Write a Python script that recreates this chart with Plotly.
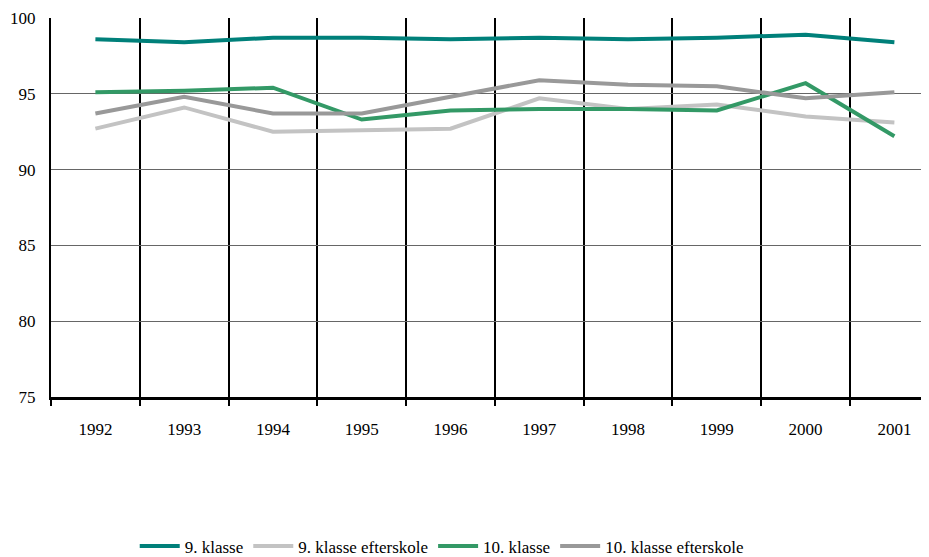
import plotly.graph_objects as go

# Data
years = ["1992", "1993", "1994", "1995", "1996", "1997", "1998", "1999", "2000", "2001"]
klasse9 = [98.6, 98.4, 98.7, 98.7, 98.6, 98.7, 98.6, 98.7, 98.9, 98.4]
klasse9_efterskole = [92.7, 94.1, 92.5, 92.6, 92.7, 94.7, 94.0, 94.3, 93.5, 93.1]
klasse10 = [95.1, 95.2, 95.4, 93.3, 93.9, 94.0, 94.0, 93.9, 95.7, 92.2]
klasse10_efterskole = [93.7, 94.8, 93.7, 93.7, 94.8, 95.9, 95.6, 95.5, 94.7, 95.1]

series = [
    ("9. klasse", klasse9, "#00807a"),
    ("9. klasse efterskole", klasse9_efterskole, "#c3c3c3"),
    ("10. klasse", klasse10, "#339966"),
    ("10. klasse efterskole", klasse10_efterskole, "#999999"),
]

fig = go.Figure()
for name, values, color in series:
    fig.add_trace(go.Scatter(
        x=years, y=values, name=name, mode="lines",
        line=dict(color=color, width=4),
    ))

font = dict(family="Liberation Serif", size=17, color="#000000")

fig.update_layout(
    width=929, height=557,
    margin=dict(l=43, r=0, t=10, b=161),
    paper_bgcolor="white",
    plot_bgcolor="white",
    font=font,
    showlegend=True,
    legend=dict(
        orientation="h", x=0.441, xanchor="center", y=-0.394, yanchor="middle",
        font=font, itemwidth=40, tracegroupgap=0,
    ),
    xaxis=dict(
        type="category", range=[-0.5, 9.48], automargin=False,
        tickson="boundaries", showgrid=True, gridcolor="#000000", gridwidth=2,
        ticks="outside", ticklen=6, tickwidth=2, tickcolor="#000000",
        showline=True, linecolor="#000000", linewidth=3,
        ticklabelstandoff=15, tickfont=font,
    ),
    yaxis=dict(
        range=[75, 100], dtick=5, tick0=75, automargin=False,
        showgrid=True, gridcolor="#666666", gridwidth=1,
        showline=True, linecolor="#000000", linewidth=2,
        zeroline=False, ticks="", ticklabelstandoff=10,
        tickfont=font,
    ),
)

fig.write_html("out.html")
